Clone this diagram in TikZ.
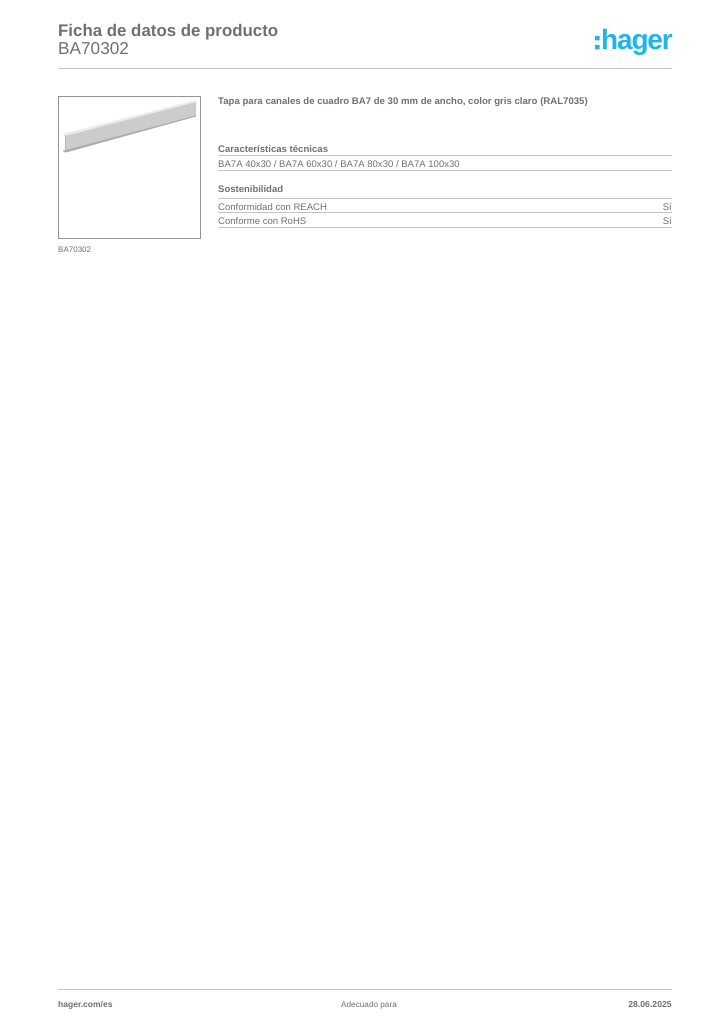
\documentclass[tikz,border=0pt]{standalone}
\usepackage{fontspec}
\setmainfont{Liberation Sans}
\definecolor{txt}{HTML}{707070}
\definecolor{rul}{HTML}{C4C4C4}
\definecolor{hag}{HTML}{1FB4EE}
\tikzset{x=1pt,y=-1pt,
 lab/.style={inner sep=0pt,anchor=base west,text=txt},
 labr/.style={inner sep=0pt,anchor=base east,text=txt},
 rule/.style={draw=rul,line width=1.1pt}}
\newcommand{\fs}[1]{\fontsize{#1}{#1}\selectfont}
\begin{document}
\begin{tikzpicture}
\useasboundingbox (0,0) rectangle (724,1024);
\fill[white] (0,0) rectangle (724,1024);
% header
\node[lab,font=\fs{16.85}\bfseries] (title) at (58,37) {Ficha de datos de producto};
\node[lab,font=\fs{17.2}] (code) at (58,55) {BA70302};
\node[inner sep=0pt,anchor=base east,text=hag,font=\fs{28}\bfseries] (logo) at (673,50) {\addfontfeature{LetterSpace=-4}hager};
\fill[hag] (595,36) rectangle (599.5,40.5) (595,45) rectangle (599.5,49.5);
\draw[rule] (58,68.5) -- (672,68.5);
% image box
\draw[draw=black!42,line width=1.1pt] (58.5,96.5) rectangle (200.5,238.5);
\fill[black!20] (65,134) -- (196,101) -- (196,116) -- (66,151) -- cycle;
\fill[black!8] (63,134) -- (196,100) -- (196,102) -- (65,136) -- cycle;
\fill[black!32] (63,150.5) -- (66,150) -- (196,115.5) -- (196,116.5) -- (66,152.5) -- (64,152.5) -- cycle;
\draw[black!30,line width=0.7pt] (65,135) -- (65,151);
\node[lab,font=\fs{8}] (cap) at (58,252) {BA70302};
% description
\node[lab,font=\fs{9.6}\bfseries] (desc) at (218,104.5) {Tapa para canales de cuadro BA7 de 30 mm de ancho, color gris claro (RAL7035)};
% table 1
\node[lab,font=\fs{9.6}\bfseries] (h1) at (218,152.5) {Características técnicas};
\draw[rule] (218,155.5) -- (672,155.5);
\node[lab,font=\fs{9.55}] (r1) at (218,167.5) {BA7A 40x30 / BA7A 60x30 / BA7A 80x30 / BA7A 100x30};
\draw[rule] (218,170.5) -- (672,170.5);
% table 2
\node[lab,font=\fs{9.5}\bfseries] (h2) at (218,192.5) {Sostenibilidad};
\draw[rule] (218,198.5) -- (672,198.5);
\node[lab,font=\fs{9.55}] (r2) at (218,210.5) {Conformidad con REACH};
\node[labr,font=\fs{9.55}] (r2b) at (672,210.5) {Sí};
\draw[rule] (218,212.5) -- (672,212.5);
\node[lab,font=\fs{9.55}] (r3) at (218,225) {Conforme con RoHS};
\node[labr,font=\fs{9.55}] (r3b) at (672,225) {Sí};
\draw[rule] (218,227.5) -- (672,227.5);
% footer
\draw[rule] (58,989.5) -- (672,989.5);
\node[lab,font=\fs{8.5}\bfseries] (f1) at (58,1007) {hager.com/es};
\node[lab,font=\fs{8.2}] (f2) at (341,1007) {Adecuado para};
\node[labr,font=\fs{8.7}\bfseries] (f3) at (672,1007) {28.06.2025};
\end{tikzpicture}
\end{document}
